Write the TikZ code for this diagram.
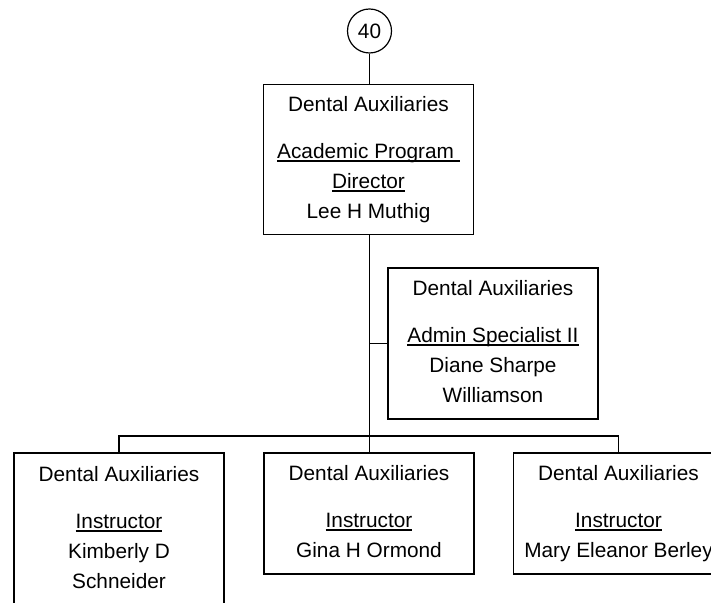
\documentclass[tikz,border=0pt]{standalone}
\usepackage{fontspec}
\setmainfont{Liberation Sans}
\newcommand{\titleul}[1]{\setbox0\hbox{#1}\rlap{\rule[-1.8pt]{\wd0}{0.7pt}}\box0}
\newcommand{\lastdp}{\rule[-2.4pt]{0pt}{2.4pt}}
\usetikzlibrary{positioning}
\tikzset{
  every node/.style={font=\fontsize{10.4}{15}\selectfont},
  posbox/.style={draw, line width=0.8pt, align=center, minimum width=105pt, minimum height=60.5pt, inner sep=0pt},
  link/.style={line width=0.8pt}
}
\begin{document}
\begin{tikzpicture}[x=0.5pt, y=-0.5pt]
    \useasboundingbox (0,0) rectangle (711,603);
    \clip (0,0) rectangle (711,603);

    % Number circle
    \node[draw, circle, line width=0.6pt, minimum size=22pt, inner sep=0pt] (num) at (369.5,31) {40};

    % Director
    \node[posbox, minimum height=75pt] (dir) at (368.5,159.5)
        {Dental Auxiliaries\\[8.5pt] \titleul{Academic Program\ }\\ \titleul{Director}\\ Lee H Muthig\lastdp};

    % Admin specialist
    \node[posbox, minimum height=75.5pt] (adm) at (493,343.5)
        {Dental Auxiliaries\\[8.5pt] \titleul{Admin Specialist II}\\ Diane Sharpe\\ Williamson\lastdp};

    % Instructors
    \node[posbox, minimum height=76.5pt] (ins1) at (119,529.5)
        {Dental Auxiliaries\\[8.5pt] \titleul{Instructor}\\ Kimberly D\\ Schneider\lastdp};
    \node[posbox] (ins2) at (369,513.5)
        {Dental Auxiliaries\\[8.5pt] \titleul{Instructor}\\ Gina H Ormond\lastdp};
    \node[posbox] (ins3) at (618.5,513.5)
        {Dental Auxiliaries\\[8.5pt] \titleul{Instructor}\\ Mary Eleanor Berley\lastdp};

    % Connectors
    \coordinate (bar) at (369.5,436);
    \draw[link] (num) -- (num |- dir.north);
    \draw[link] (dir.south -| bar) -- (bar);
    \draw[link] (adm.west) -- (adm.west -| bar);
    \draw[link] (ins1.north) |- (bar) -| (ins3.north);
    \draw[link] (bar) -- (ins2.north -| bar);
\end{tikzpicture}
\end{document}
